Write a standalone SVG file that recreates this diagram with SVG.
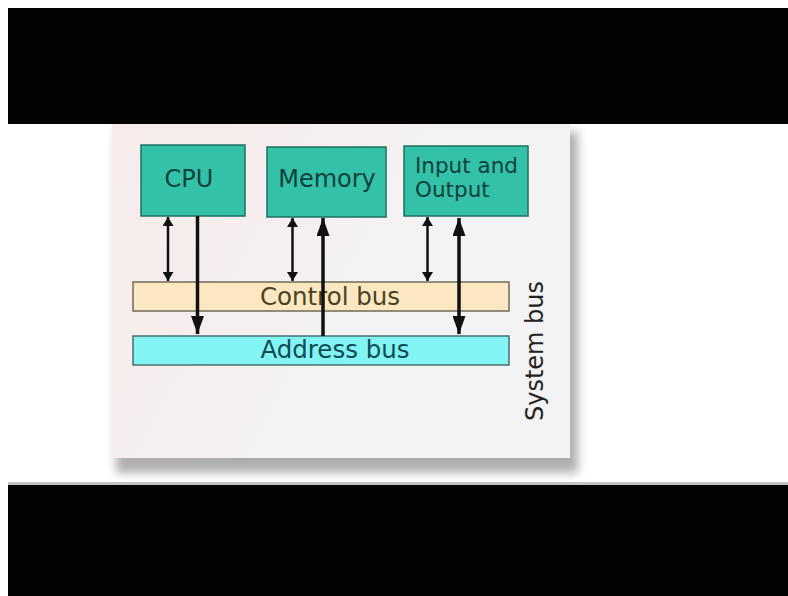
<svg xmlns="http://www.w3.org/2000/svg" width="788" height="596" viewBox="0 0 788 596">
  <style>
    .node rect { stroke: #1f6f62; stroke-width: 1.5; }
    .box { fill: #33c2a8; }
    .lbl { font-family: "DejaVu Sans", "Liberation Sans", sans-serif; fill: #0f403b; }
    .conn line { stroke: #111; }
    .thin { stroke-width: 2.5; }
    .thick { stroke-width: 3.5; }
  </style>
  <defs>
    <marker id="sh" viewBox="0 0 9 11" refX="9" refY="5.5" markerWidth="9" markerHeight="11" markerUnits="userSpaceOnUse" orient="auto-start-reverse">
      <path d="M0,0 L9,5.5 L0,11 z" fill="#111"/>
    </marker>
    <marker id="lh" viewBox="0 0 18 13" refX="18" refY="6.5" markerWidth="18" markerHeight="13" markerUnits="userSpaceOnUse" orient="auto-start-reverse">
      <path d="M0,0 L18,6.5 L0,13 z" fill="#111"/>
    </marker>
    <linearGradient id="panelg" x1="0" y1="0" x2="1" y2="0.4">
      <stop offset="0" stop-color="#f7ebeb"/>
      <stop offset="0.35" stop-color="#f6eeee"/>
      <stop offset="0.7" stop-color="#f4f3f3"/>
      <stop offset="1" stop-color="#f3f3f3"/>
    </linearGradient>
    <filter id="blur" x="-10%" y="-10%" width="120%" height="130%">
      <feGaussianBlur stdDeviation="5"/>
    </filter>
  </defs>

  <rect x="0" y="0" width="788" height="596" fill="#ffffff"/>

  <!-- panel with shadow -->
  <rect x="116" y="132" width="462" height="341" fill="#7a7a7a" opacity="0.6" filter="url(#blur)"/>
  <rect x="112" y="120" width="458" height="338" fill="url(#panelg)"/>

  <!-- black bars -->
  <rect x="8" y="8" width="780" height="116" fill="#030303"/>
  <rect x="8" y="485" width="780" height="111" fill="#030303"/>
  <rect x="8" y="482" width="780" height="3" fill="#8a8a8a" opacity="0.5"/>

  <!-- buses -->
  <g id="control-bus" class="node">
    <rect x="133" y="282" width="376" height="29" fill="#fbe8c0" style="stroke:#6f6a5a;stroke-width:1.5"/>
    <text x="330" y="305" text-anchor="middle" font-size="24.5" class="lbl" style="fill:#4a4226">Control bus</text>
  </g>
  <g id="address-bus" class="node">
    <rect x="133" y="336" width="376" height="29" fill="#82f4f4" style="stroke:#4a6f72;stroke-width:1.5"/>
    <text x="335" y="358" text-anchor="middle" font-size="24.5" class="lbl" style="fill:#0f4a55">Address bus</text>
  </g>

  <!-- components -->
  <g id="cpu" class="node">
    <rect class="box" x="141" y="145" width="104" height="71"/>
    <text x="189" y="187" text-anchor="middle" font-size="24" class="lbl">CPU</text>
  </g>
  <g id="memory" class="node">
    <rect class="box" x="267" y="147" width="119" height="70"/>
    <text x="327" y="187" text-anchor="middle" font-size="24" class="lbl">Memory</text>
  </g>
  <g id="io" class="node">
    <rect class="box" x="404" y="146" width="124" height="70"/>
    <text x="415" y="173" font-size="21.5" class="lbl">Input and</text>
    <text x="415" y="197" font-size="21.5" class="lbl">Output</text>
  </g>

  <!-- system bus label -->
  <text x="0" y="0" transform="translate(543 351) rotate(-90)" text-anchor="middle" font-size="24" class="lbl" style="fill:#222">System bus</text>

  <!-- connectors -->
  <g id="connectors" class="conn">
    <line class="thin" x1="168" y1="217" x2="168" y2="281" marker-start="url(#sh)" marker-end="url(#sh)"/>
    <line class="thick" x1="197.5" y1="216" x2="197.5" y2="334" marker-end="url(#lh)"/>
    <line class="thin" x1="292.5" y1="218" x2="292.5" y2="281" marker-start="url(#sh)" marker-end="url(#sh)"/>
    <line class="thick" x1="323" y1="336" x2="323" y2="218" marker-end="url(#lh)"/>
    <line class="thin" x1="427.5" y1="217" x2="427.5" y2="281" marker-start="url(#sh)" marker-end="url(#sh)"/>
    <line class="thick" x1="459" y1="218" x2="459" y2="334" marker-start="url(#lh)" marker-end="url(#lh)"/>
  </g>
</svg>
